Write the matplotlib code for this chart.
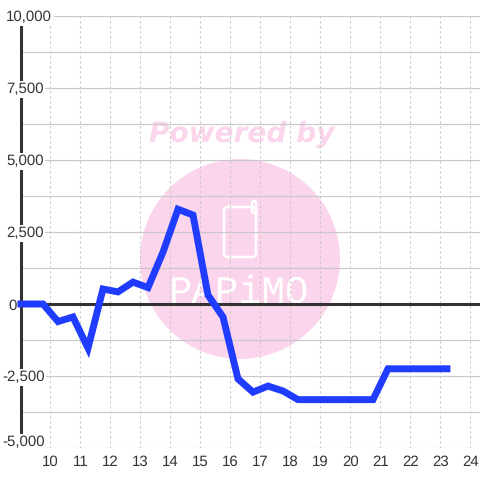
import matplotlib
matplotlib.use('Agg')
import matplotlib.pyplot as plt
from matplotlib.patches import Circle, FancyBboxPatch
from matplotlib.transforms import Affine2D, blended_transform_factory, ScaledTranslation

hours = [8.9, 9.25, 9.75, 10.25, 10.75, 11.25, 11.75, 12.25, 12.75, 13.25, 13.75, 14.25, 14.75,
         15.25, 15.75, 16.25, 16.75, 17.25, 17.75, 18.25, 18.75, 19.25, 19.75, 20.25, 20.75,
         21.25, 21.75, 22.25, 22.75, 23.33]
values = [0, 0, 0, -610, -450, -1530, 520, 420, 760, 570, 1800, 3290, 3090,
          310, -450, -2600, -3060, -2850, -3020, -3320, -3320, -3320, -3320, -3320, -3320,
          -2250, -2250, -2250, -2250, -2250]

x_ticks = list(range(10, 25))
y_ticks = [10000, 7500, 5000, 2500, 0, -2500, -5000]
y_labels = ['10,000', '7,500', '5,000', '2,500', '0', '-2,500', '-5,000']
y_minor = [8750, 6250, 3750, 1250, -1250, -3750]
label_left = [6, 6, 6, 6, 8, 2, 2]

plt.rcParams['font.family'] = ['Liberation Sans', 'DejaVu Sans']
plt.rcParams['text.hinting'] = 'no_hinting'
plt.rcParams['text.hinting_factor'] = 1

fig = plt.figure(figsize=(4.8, 4.8), dpi=100, facecolor='white')
ax = fig.add_axes([20.5 / 480, 1 - 448 / 480, 459.5 / 480, 432 / 480])
ax.patch.set_alpha(0)
ax.set_xlim(9, 24.317)
ax.set_ylim(-5000, 10000)

px = Affine2D().scale(1, -1).translate(0, 480)

# watermark, sits behind the grid
pink = '#fbd5ec'
fig.patches.append(Circle((240, 259), 100, transform=px, color=pink, lw=0, zorder=-5))
fig.patches.append(FancyBboxPatch((224, 207), 32, 50, boxstyle='round,pad=0,rounding_size=4',
                                  transform=px, fc='none', ec='white', lw=1.9, zorder=-4))
fig.patches.append(FancyBboxPatch((252, 201), 4, 12, boxstyle='round,pad=0,rounding_size=2',
                                  transform=px, fc='none', ec='white', lw=1.9, zorder=-4))
fig.text(242, 134, 'Powered by', transform=px, color=pink, fontsize=20.5, family='DejaVu Sans',
         weight='bold', style='oblique', ha='center', va='center', zorder=-4)
fig.text(239, 303, 'PAPiMO', transform=px, color='white', fontsize=28, family='Liberation Mono',
         ha='center', va='baseline', zorder=-4)

ax.set_xticks(x_ticks)
ax.set_yticks(y_ticks)
ax.set_yticks(y_minor, minor=True)
ax.set_yticklabels([])
ax.tick_params(axis='both', which='both', length=0)
ax.tick_params(axis='x', labelsize=10.8, labelcolor='#333333', pad=5)
ax.grid(True, axis='y', which='both', color='#c8c8c8', lw=0.85)
ax.grid(True, axis='x', color='#c8c8c8', lw=0.8, ls=(0, (2, 2.5)))
ax.set_axisbelow(True)

for side in ['top', 'right', 'bottom']:
    ax.spines[side].set_visible(False)
ax.spines['left'].set_color('#333333')
ax.spines['left'].set_linewidth(2.2)

ax.axhline(0, color='#333333', lw=2.2, zorder=2)
ax.plot(hours, values, color='#1f3cff', lw=5, solid_joinstyle='miter', solid_capstyle='butt',
        clip_on=False, zorder=6)

# y labels sit on top of the axis line with a white box
to_x = blended_transform_factory(fig.dpi_scale_trans, ax.transData)
for tick, label, left in zip(y_ticks, y_labels, label_left):
    shift = 7 if tick == -5000 else 0
    trans = to_x + ScaledTranslation(0, shift / 100, fig.dpi_scale_trans)
    ax.text(left / 100, tick, label, transform=trans, ha='left', va='center_baseline', fontsize=10.8,
            color='#333333', clip_on=False, zorder=4,
            bbox=dict(fc='white', ec='none', pad=1.2))

fig.savefig('out.png', dpi=100)
